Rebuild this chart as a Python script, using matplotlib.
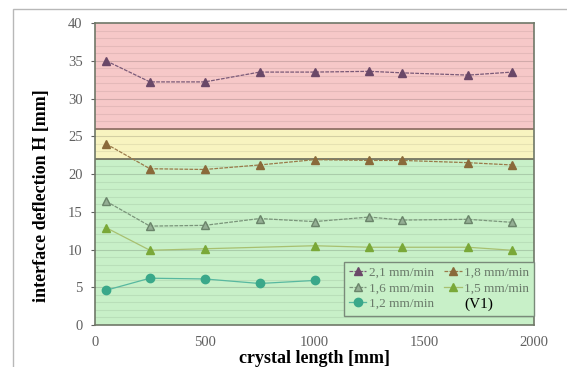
import numpy as np
import matplotlib
matplotlib.use("Agg")
import matplotlib.pyplot as plt
from matplotlib.lines import Line2D
from matplotlib.patches import Rectangle

plt.rcParams['font.family'] = ['Liberation Serif', 'DejaVu Serif']

# crystal length positions [mm]
x_full = [50, 250, 500, 750, 1000, 1250, 1400, 1700, 1900]
x_15 = [50, 250, 500, 1000, 1250, 1400, 1700, 1900]
x_12 = [50, 250, 500, 750, 1000]

# interface deflection H [mm]
h_21 = [35.0, 32.2, 32.2, 33.5, 33.5, 33.6, 33.4, 33.1, 33.5]
h_18 = [24.0, 20.7, 20.6, 21.2, 21.9, 21.8, 21.8, 21.5, 21.2]
h_16 = [16.4, 13.1, 13.2, 14.1, 13.7, 14.3, 13.9, 14.0, 13.6]
h_15 = [12.9, 9.9, 10.1, 10.5, 10.3, 10.3, 10.3, 9.9]
h_12 = [4.6, 6.2, 6.1, 5.5, 5.9]

labels = ['2,1 mm/min', '1,8 mm/min', '1,6 mm/min', '1,5 mm/min', '1,2 mm/min']

# background zones
zones = [(0, 22, '#c8f0c8'), (22, 26, '#f8f4c0'), (26, 40, '#f6c8c8')]

fig = plt.figure(figsize=(5.67, 3.67), dpi=100)
ax = fig.add_axes([0.1676, 0.1144, 0.7742, 0.8229])

# outer frame of the chart area
fig.patches.append(Rectangle((13 / 567, -0.1), 1.2, 1 - 9 / 367 + 0.1,
                             transform=fig.transFigure, fill=False,
                             edgecolor='#b8b8b8', linewidth=1.0))

for lo, hi, c in zones:
    ax.axhspan(lo, hi, color=c, zorder=0, linewidth=0)
for yy in range(1, 40):
    ax.axhline(yy, color='#000000', alpha=0.07 if yy % 5 else 0.15,
               linewidth=0.8, zorder=1)
ax.axhline(22, color='#6b6b5a', linewidth=1.2, zorder=2)
ax.axhline(26, color='#8a6a60', linewidth=1.2, zorder=2)

l21, = ax.plot(x_full, h_21, color='#7a5a78', linestyle=(0, (3, 1)),
               linewidth=0.9, marker='^', markersize=6, markerfacecolor='#6a4868',
               markeredgecolor='#6a4868', zorder=3)
l18, = ax.plot(x_full, h_18, color='#9a7a4a', linestyle=(0, (3, 1)),
               linewidth=0.9, marker='^', markersize=6, markerfacecolor='#8a6a3a',
               markeredgecolor='#8a6a3a', zorder=3)
l16, = ax.plot(x_full, h_16, color='#7a947a', linestyle=(0, (3, 1)),
               linewidth=0.9, marker='^', markersize=6, markerfacecolor='#94ae94',
               markeredgecolor='#6a846a', zorder=3)
l15, = ax.plot(x_15, h_15, color='#a8c070', linestyle='-',
               linewidth=0.9, marker='^', markersize=6, markerfacecolor='#7aa838',
               markeredgecolor='#7aa838', zorder=3)
l12, = ax.plot(x_12, h_12, color='#58b8a0', linestyle='-',
               linewidth=0.9, marker='o', markersize=6, markerfacecolor='#3aa88a',
               markeredgecolor='#3aa88a', zorder=3)

ax.set_xlim(0, 2000)
ax.set_ylim(0, 40)
ax.set_xticks([0, 500, 1000, 1500, 2000])
ax.set_yticks([0, 5, 10, 15, 20, 25, 30, 35, 40])
ax.tick_params(axis='y', labelsize=10.5, colors='#606060', length=3, pad=6)
ax.tick_params(axis='x', labelsize=10.5, colors='#606060', length=0, pad=8)
for s in ax.spines.values():
    s.set_color('#707868')
    s.set_linewidth(1.2)

ax.set_xlabel('crystal length [mm]', fontsize=13, fontweight='bold')
ax.set_ylabel('interface deflection H [mm]', fontsize=13, fontweight='bold')
ax.xaxis.set_label_coords(0.5, -0.084)
ax.yaxis.set_label_coords(-0.103, 0.43)

blank = Line2D([], [], linestyle='none', marker=None)
handles = [l21, l16, l12, l18, l15, blank]
texts = [labels[0], labels[2], labels[4], labels[1], labels[3], '(V1)']
leg = ax.legend(handles, texts, ncol=2, loc='lower right',
                bbox_to_anchor=(1.0, 0.03), fontsize=9.5, frameon=True,
                fancybox=False, handlelength=1.3, handletextpad=0.2,
                columnspacing=0.8, labelspacing=0.25, borderpad=0.35,
                borderaxespad=0)
leg.get_frame().set_facecolor('#c8f0c8')
leg.get_frame().set_edgecolor('#7a8a7a')
leg.get_frame().set_alpha(1.0)
for t in leg.get_texts()[:5]:
    t.set_color('#6a7a6a')
leg.get_texts()[5].set_color('black')
leg.get_texts()[5].set_fontsize(11)

fig.savefig('out.png', dpi=100)
